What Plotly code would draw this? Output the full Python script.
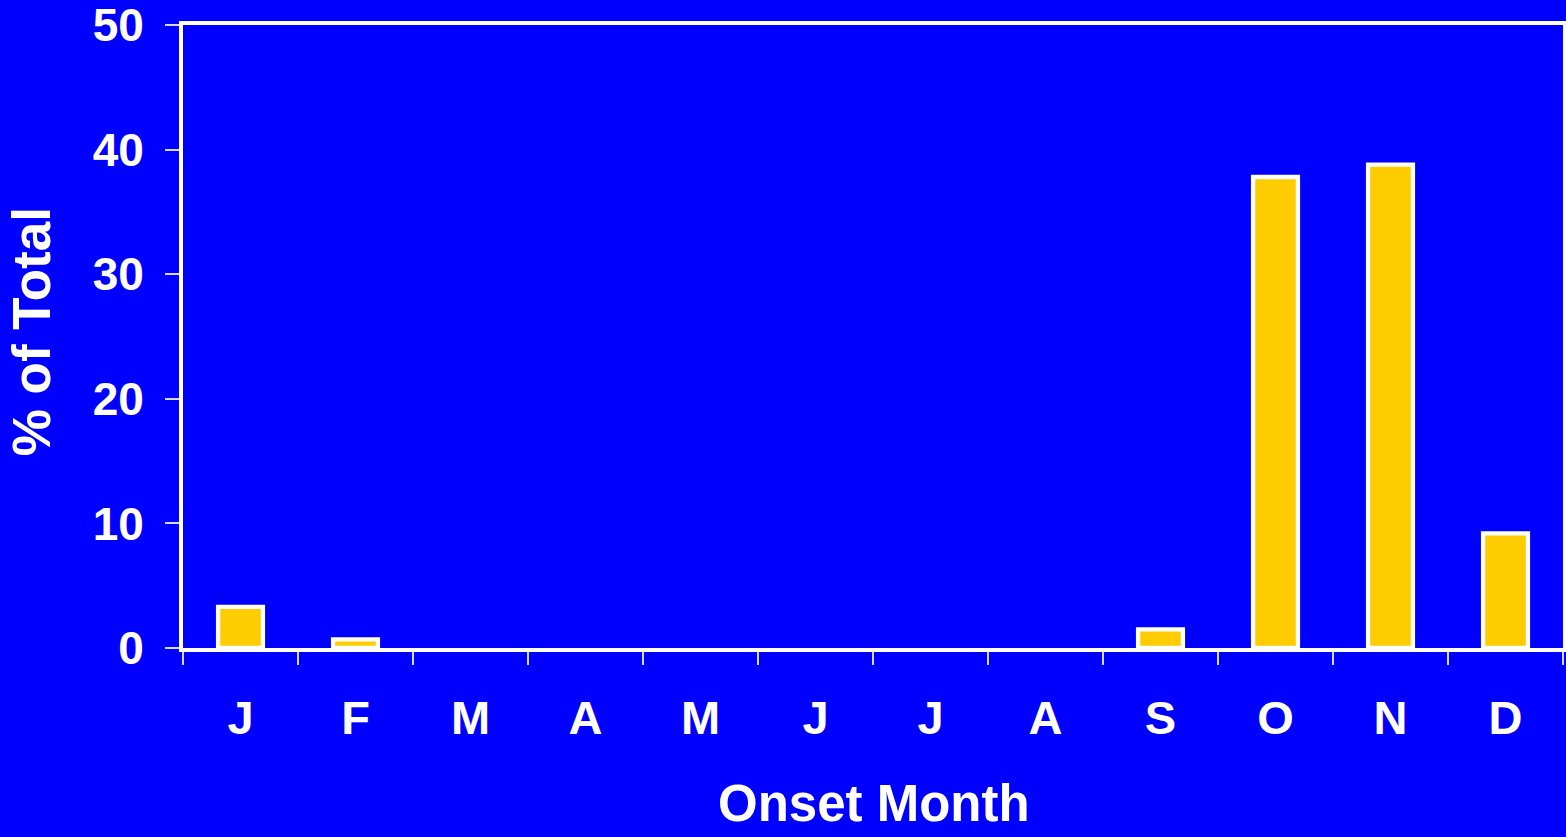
import plotly.graph_objects as go

months = ["J", "F", "M", "A", "M", "J", "J", "A", "S", "O", "N", "D"]
month_ids = [f"m{i}" for i in range(12)]
pct_total = [3.3, 0.7, 0, 0, 0, 0, 0, 0, 1.5, 37.8, 38.8, 9.2]
y_ticks = [0, 10, 20, 30, 40, 50]
x_title = "Onset Month"
y_title = "% of Total"

FONT = "Liberation Sans, Arial, sans-serif"
BLUE = "#0000FF"
GOLD = "#FFCC00"

bar_vals = [v if v > 0 else None for v in pct_total]

fig = go.Figure(
    go.Bar(
        x=month_ids,
        y=bar_vals,
        width=0.39,
        marker=dict(color=GOLD, line=dict(color="white", width=4.3)),
    )
)

fig.update_layout(
    width=1566,
    height=837,
    paper_bgcolor=BLUE,
    plot_bgcolor=BLUE,
    margin=dict(l=183, r=3, t=25, b=189, autoexpand=False),
    showlegend=False,
    font=dict(family=FONT, color="white"),
)

fig.update_xaxes(
    type="category",
    automargin=False,
    tickmode="array",
    tickvals=month_ids,
    ticktext=[f"<b>{m}</b>" for m in months],
    tickson="boundaries",
    ticks="outside",
    ticklen=13,
    tickwidth=2,
    tickcolor="#d8d8ff",
    tickfont=dict(size=47, family=FONT, color="white"),
    ticklabelstandoff=26,
    showline=True,
    linecolor="white",
    linewidth=4,
    mirror=True,
    showgrid=False,
    zeroline=False,
)

fig.update_yaxes(
    range=[0, 50],
    automargin=False,
    tickmode="array",
    tickvals=y_ticks,
    ticktext=[f"<b>{t}</b>" for t in y_ticks],
    ticks="outside",
    ticklen=14,
    tickwidth=2,
    tickcolor="#d8d8ff",
    tickfont=dict(size=46, family=FONT, color="white"),
    ticklabelstandoff=12,
    ticklabeloverflow="allow",
    showline=True,
    linecolor="white",
    linewidth=4,
    mirror=True,
    showgrid=False,
    zeroline=False,
)

# axis titles as annotations, kept just inside the page edges
fig.add_annotation(
    text=f"<b>{x_title}</b>",
    xref="paper", yref="paper",
    x=0.501, y=-0.250,
    xanchor="center", yanchor="middle",
    showarrow=False,
    borderpad=0,
    font=dict(size=51, family=FONT, color="white"),
)
fig.add_annotation(
    text=f"<b>{y_title}</b>",
    xref="paper", yref="paper",
    x=-0.110, y=0.507,
    xanchor="center", yanchor="middle",
    textangle=-90,
    showarrow=False,
    borderpad=0,
    font=dict(size=53, family=FONT, color="white"),
)

fig.write_html(
    "out.html",
    config={"displayModeBar": False},
    post_script="document.body.style.margin='0';document.body.style.background='#0000FF';",
)
